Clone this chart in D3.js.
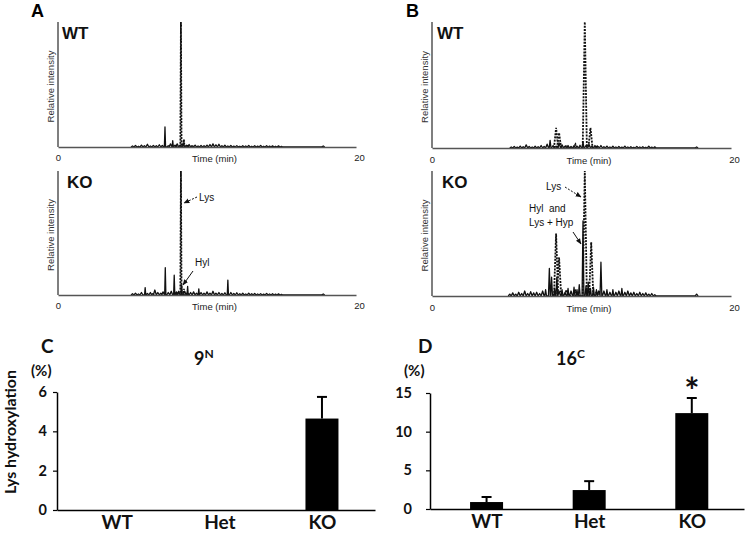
<!DOCTYPE html>
<html><head><meta charset="utf-8">
<script src="https://cdn.jsdelivr.net/npm/d3@7"></script>
<style>body{margin:0;background:#fff}svg{display:block}</style>
</head><body>
<script>
// ---------- DATA ----------
// Chromatograms: spikes [time (min), relative intensity %]
const timeDomain = [0, 20];
const timeTicks = [0, 20];
const aWTSolid = [[5.0,0.8],[5.2,1.2],[5.4,0.6],[5.6,1.5],[5.8,1],[6.0,2.2],[6.2,0.8],[6.4,1.3],[6.6,1],[6.8,1.8],[7.0,1.2],[7.18,16],[7.4,1],[7.55,2.5],[7.7,5],[7.85,1.5],[8.0,2.5],[8.2,1.5],[8.4,3],[8.6,1.2],[8.8,2],[9.0,1],[9.2,1.5],[9.4,0.8],[9.6,1.2],[9.8,1],[10.0,1.5],[10.2,2],[10.4,2.5],[10.6,1.8],[10.8,2.2],[11.0,1],[11.2,1.4],[11.4,0.8],[11.6,1.2],[11.8,0.7],[12.0,1.1],[12.2,0.6],[12.4,1],[12.6,0.8],[12.8,1.2],[13.0,0.6],[13.2,1],[13.4,0.7],[13.6,1.3],[13.8,0.6],[14.0,1],[14.2,0.7],[14.4,0.9],[14.6,0.6],[14.8,0.9],[15.0,0.5],[17.8,0.8]];
const aWTDashed = [[7.95,1],[8.25,100],[8.45,6],[8.7,2],[9.0,1]];
const aKOSolid = [[5.0,1],[5.2,1.5],[5.4,0.8],[5.6,2],[5.85,6],[6.0,1.2],[6.2,2],[6.35,1],[6.5,4],[6.7,2],[6.9,1.5],[7.05,2.5],[7.2,22],[7.4,2],[7.6,3],[7.8,16],[7.95,2.5],[8.1,3],[8.3,8],[8.5,3],[8.7,7],[8.9,2],[9.1,2.5],[9.3,1.5],[9.45,5],[9.6,2],[9.8,1.5],[10.0,2.5],[10.2,1.5],[10.4,3],[10.6,1.5],[10.8,2],[11.0,1.2],[11.2,1.8],[11.4,12],[11.6,2],[11.8,1.2],[12.0,1.8],[12.2,1],[12.4,1.4],[12.6,0.8],[12.8,1.5],[13.0,1],[13.2,1.2],[13.4,0.8],[13.6,1.1],[13.8,0.7],[14.0,1.3],[14.2,0.8],[14.4,1],[14.6,0.7],[14.8,0.9],[15.0,0.5],[17.8,0.8]];
const aKODashed = [[8.0,2],[8.25,100],[8.45,5],[8.7,2]];
const bWTSolid = [[5.3,0.8],[5.5,1.2],[5.7,0.7],[5.9,1.5],[6.1,1],[6.3,2.5],[6.5,1.2],[6.7,0.8],[6.9,1.4],[7.1,1],[7.3,2],[7.5,1.2],[7.7,3],[7.9,6],[8.1,2],[8.3,1.5],[8.5,4],[8.7,2.5],[8.9,1.5],[9.1,2],[9.3,1.2],[9.5,1.8],[9.7,1.3],[9.9,2.2],[10.1,5],[10.3,2],[10.5,3],[10.7,1.5],[10.9,2],[11.1,1.3],[11.3,2],[11.5,1],[11.7,1.5],[11.9,0.8],[12.1,1.4],[12.3,0.8],[12.5,1.2],[12.7,0.7],[12.9,1.5],[13.1,0.8],[13.3,1],[13.5,0.6],[13.7,1.3],[13.9,0.8],[14.1,1],[14.3,0.6],[14.5,1.4],[14.7,0.7],[14.9,0.9],[17.7,0.8]];
const bWTDashed = [[8.3,16],[8.5,12],[9.0,2],[9.6,3],[10.22,100],[10.6,16],[11.0,2]];
const bKOSolid = [[5.2,1.5],[5.4,2.5],[5.6,1.5],[5.8,3],[6.0,2],[6.2,4],[6.4,2],[6.6,3.5],[6.8,2.5],[7.0,3],[7.2,2],[7.4,4],[7.6,5],[7.85,22],[8.0,15],[8.2,6],[8.35,15],[8.5,4],[8.7,5],[8.9,3],[9.1,6],[9.3,4],[9.5,7],[9.7,5],[9.85,9],[10.1,60],[10.3,8],[10.45,11],[10.6,6],[10.8,7],[11.0,5],[11.15,4],[11.3,27],[11.5,4],[11.7,5],[11.9,3],[12.1,5],[12.3,3],[12.5,4],[12.7,6],[12.9,3],[13.1,4],[13.3,2.5],[13.5,3],[13.7,2],[13.9,3],[14.1,2],[14.3,2.5],[14.5,1.5],[14.7,2],[14.9,1],[17.7,1.5]];
const bKODashed = [[8.3,50],[8.5,31],[9.0,5],[9.6,4],[10.22,100],[10.65,43],[11.0,3]];

// Bar charts
const categories = ["WT", "Het", "KO"];
const c9NMeans = [0, 0, 4.65];
const c9NErrors = [0, 0, 1.1];
const c9NTicks = [0, 2, 4, 6];
const d16CMeans = [0.9, 2.45, 12.4];
const d16CErrors = [0.65, 1.15, 1.95];
const d16CTicks = [0, 5, 10, 15];

// ---------- DRAW ----------
const W = 745, H = 536;
const svg = d3.select("body").append("svg").attr("width", W).attr("height", H)
  .style("font-family", "'Liberation Sans', Arial, sans-serif");
svg.append("rect").attr("width", W).attr("height", H).attr("fill", "#fff");

const defs = svg.append("defs");
defs.append("marker").attr("id", "arr").attr("viewBox", "0 0 10 10")
  .attr("refX", 9).attr("refY", 5).attr("markerWidth", 6).attr("markerHeight", 6)
  .attr("orient", "auto").append("path").attr("d", "M0,1 L10,5 L0,9 Z").attr("fill", "#111");

const noiseHw = 0.1;
function spikePoints(spikes, hw) {
  const pts = [];
  spikes.forEach(([t, v]) => {
    const w = v >= 5 ? hw : Math.max(hw, noiseHw);
    pts.push([t - w, 0], [t, v], [t + w, 0]);
  });
  return pts;
}

function chrom(cfg) {
  const x = d3.scaleLinear().domain(timeDomain).range(cfg.xr);
  const y = d3.scaleLinear().domain([0, 100]).range(cfg.yr);
  const g = svg.append("g");
  const line = d3.line().x(d => x(d[0])).y(d => y(d[1]));
  g.append("path").attr("d", line(spikePoints(cfg.solid, cfg.hwS)))
    .attr("fill", "none").attr("stroke", "#111").attr("stroke-width", 1.3).attr("stroke-linejoin", "round");
  g.append("path").attr("d", line(spikePoints(cfg.dashed, cfg.hwD)))
    .attr("fill", "none").attr("stroke", "#111").attr("stroke-width", 1.8)
    .attr("stroke-dasharray", "2,1.2");
  g.append("line").attr("x1", cfg.xr[0]).attr("x2", cfg.xr[0]).attr("y1", cfg.yr[0]).attr("y2", cfg.yr[1])
    .attr("stroke", "#555").attr("stroke-width", 1.5);
  const ax = g.append("g").attr("transform", `translate(0,${cfg.yr[0]})`)
    .call(d3.axisBottom(x).tickValues(timeTicks).tickSize(0).tickPadding(cfg.tp).tickFormat(d3.format("d")));
  ax.select(".domain").attr("stroke", "#555").attr("stroke-width", 1.5);
  ax.selectAll("text").attr("font-size", 9.5).attr("fill", "#222").attr("font-family", "'Liberation Sans', Arial, sans-serif");
  ax.selectAll("text").filter(d => d === 20).attr("dx", 3);
  g.append("text").attr("x", x(10.5)).attr("y", cfg.yr[0] + cfg.tp + 7.5).attr("text-anchor", "middle")
    .attr("font-size", 9.5).attr("fill", "#222").text("Time (min)");
  g.append("text").attr("transform", `translate(${cfg.xr[0] - 4},${(cfg.yr[0] + cfg.yr[1]) / 2 + 2}) rotate(-90)`)
    .attr("text-anchor", "middle").attr("font-size", 9.5).attr("fill", "#333").text("Relative intensity");
  g.append("text").attr("x", cfg.xr[0] + cfg.lx).attr("y", cfg.yr[1] + 17).attr("font-size", 17)
    .attr("font-weight", "bold").attr("fill", "#111").text(cfg.label);
  return {x, y, g};
}

[["A", 31, 17], ["B", 406, 17]].forEach(([t, px, py]) =>
  svg.append("text").attr("x", px).attr("y", py).attr("font-size", 18).attr("font-weight", "bold").text(t));

chrom({xr: [58, 356], yr: [147, 22], solid: aWTSolid, dashed: aWTDashed, hwS: 0.04, hwD: 0.04, label: "WT", lx: 4, tp: 7});
chrom({xr: [58, 356], yr: [295, 171], solid: aKOSolid, dashed: aKODashed, hwS: 0.04, hwD: 0.04, label: "KO", lx: 9, tp: 7});
chrom({xr: [432, 731], yr: [148, 22], solid: bWTSolid, dashed: bWTDashed, hwS: 0.06, hwD: 0.14, label: "WT", lx: 5, tp: 8});
chrom({xr: [432, 731], yr: [296, 171], solid: bKOSolid, dashed: bKODashed, hwS: 0.06, hwD: 0.14, label: "KO", lx: 10, tp: 8});

function ann(g, text, tx, ty) {
  const t = g.append("text").attr("font-size", 10).attr("fill", "#111").attr("xml:space", "preserve")
    .style("white-space", "pre");
  text.forEach((s, i) => t.append("tspan").attr("x", tx).attr("y", ty + i * 14).text(s));
}
ann(svg, ["Lys"], 199, 201);
svg.append("line").attr("x1", 197).attr("y1", 197).attr("x2", 184).attr("y2", 203)
  .attr("stroke", "#111").attr("stroke-width", 1).attr("stroke-dasharray", "2,1.5").attr("marker-end", "url(#arr)");
ann(svg, ["Hyl"], 195, 266);
svg.append("line").attr("x1", 193).attr("y1", 271).attr("x2", 183).attr("y2", 285)
  .attr("stroke", "#111").attr("stroke-width", 1).attr("marker-end", "url(#arr)");
ann(svg, ["Lys"], 546, 190);
svg.append("line").attr("x1", 565).attr("y1", 187).attr("x2", 581).attr("y2", 197)
  .attr("stroke", "#111").attr("stroke-width", 1).attr("stroke-dasharray", "2,1.5").attr("marker-end", "url(#arr)");
ann(svg, ["Hyl\u00a0 and", "Lys + Hyp"], 529, 212);
svg.append("line").attr("x1", 573).attr("y1", 232).attr("x2", 581).attr("y2", 244)
  .attr("stroke", "#111").attr("stroke-width", 1).attr("marker-end", "url(#arr)");

// ---------- bar charts ----------
const barFont = "Lato, 'Open Sans', sans-serif";
function bars(cfg) {
  const g = svg.append("g").style("font-family", barFont).attr("font-weight", "bold");
  const y = d3.scaleLinear().domain([0, cfg.ticks[cfg.ticks.length - 1]]).range(cfg.yr);
  const x = d3.scalePoint().domain(categories).range(cfg.xr).padding(cfg.pad).align(cfg.align);
  const bw = 33;
  g.selectAll("rect.bar").data(cfg.means).join("rect").attr("class", "bar")
    .attr("x", (d, i) => x(categories[i]) - bw / 2).attr("width", bw)
    .attr("y", d => y(d)).attr("height", d => y(0) - y(d)).attr("fill", "#000");
  cfg.means.forEach((m, i) => {
    if (cfg.errs[i] <= 0) return;
    const cx = x(categories[i]);
    g.append("line").attr("x1", cx).attr("x2", cx).attr("y1", y(m)).attr("y2", y(m + cfg.errs[i]))
      .attr("stroke", "#000").attr("stroke-width", 2);
    g.append("line").attr("x1", cx - 5).attr("x2", cx + 5).attr("y1", y(m + cfg.errs[i])).attr("y2", y(m + cfg.errs[i]))
      .attr("stroke", "#000").attr("stroke-width", 2);
  });
  const ya = g.append("g").attr("transform", `translate(${cfg.xr[0]},0)`)
    .call(d3.axisLeft(y).tickValues(cfg.ticks).tickSize(4).tickSizeOuter(0).tickPadding(cfg.tpad).tickFormat(d3.format("d")));
  ya.select(".domain").attr("stroke", "#000").attr("stroke-width", 1.5);
  ya.selectAll(".tick line").attr("stroke", "#000").attr("stroke-width", 1.2);
  ya.selectAll("text").attr("font-size", 14.5).attr("font-family", barFont).attr("font-weight", "bold").attr("fill", "#111");
  const xa = g.append("g").attr("transform", `translate(0,${cfg.yr[0]})`)
    .call(d3.axisBottom(x).tickSize(0).tickSizeOuter(0).tickPadding(6));
  xa.select(".domain").attr("stroke", "#000").attr("stroke-width", 1.5);
  xa.selectAll("text").attr("font-size", 19).attr("font-family", barFont).attr("font-weight", "bold").attr("fill", "#111");
  g.append("text").attr("x", cfg.lx).attr("y", 353).attr("font-size", 19).attr("fill", "#111").text(cfg.letter);
  g.append("text").attr("x", cfg.ux).attr("y", 376).attr("font-size", 15).attr("fill", "#111").text("(%)");
  const tt = g.append("text").attr("x", cfg.tx).attr("y", 365).attr("font-size", 18).attr("fill", "#111");
  tt.append("tspan").text(cfg.title[0]);
  tt.append("tspan").attr("font-size", 12).attr("dy", -7).text(cfg.title[1]);
  return {x, y, g};
}

bars({xr: [57, 375], yr: [510, 392], pad: 0.55, align: 0.53, ticks: c9NTicks, means: c9NMeans, errs: c9NErrors,
      tpad: 6, letter: "C", lx: 41, ux: 31, tx: 194, title: ["9", "N"]});
const dChart = bars({xr: [430, 744], yr: [509, 393], pad: 0.53, align: 0.52, ticks: d16CTicks, means: d16CMeans, errs: d16CErrors,
      tpad: 14, letter: "D", lx: 418, ux: 404, tx: 556, title: ["16", "C"]});
dChart.g.append("text").attr("x", dChart.x("KO")).attr("y", dChart.y(d16CMeans[2] + d16CErrors[2]) + 6)
  .attr("text-anchor", "middle").attr("font-size", 36).attr("fill", "#111").text("*");

svg.append("text").attr("transform", "translate(16,432) rotate(-90)").attr("text-anchor", "middle")
  .style("font-family", barFont).attr("font-weight", "bold").attr("font-size", 16).attr("fill", "#111")
  .text("Lys hydroxylation");
</script>
</body></html>
